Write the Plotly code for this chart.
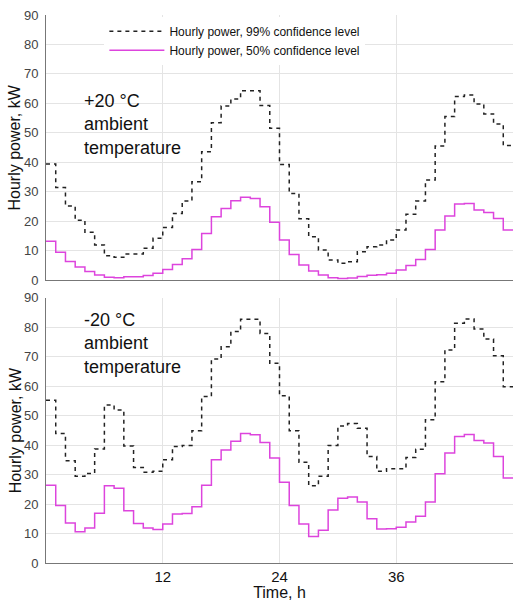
import plotly.graph_objects as go
from plotly.subplots import make_subplots

hours = list(range(49))

top_99 = [39.4, 31.4, 25.1, 20.3, 16.2, 11.9, 8.2, 7.7, 8.8, 8.8, 10.8, 14.2,
          17.8, 22.6, 26.8, 33.4, 43.6, 53.4, 59.1, 61.5, 64.3, 64.3, 59.3, 51.5,
          39.2, 29.4, 20.8, 14.7, 10.2, 6.8, 5.7, 6.2, 9.6, 11.3, 11.9, 13.6,
          17.0, 22.3, 26.8, 34.0, 45.5, 55.5, 62.3, 62.8, 59.8, 56.4, 53.0, 45.7]
top_50 = [13.2, 9.4, 6.3, 4.4, 2.9, 1.7, 0.9, 0.8, 1.1, 1.1, 1.5, 2.3,
          3.6, 5.3, 7.2, 10.4, 15.8, 21.5, 24.3, 26.9, 28.1, 27.7, 24.9, 19.6,
          13.6, 8.7, 5.1, 3.1, 1.7, 0.8, 0.5, 0.7, 1.2, 1.6, 1.8, 2.3,
          3.4, 4.9, 7.0, 10.4, 17.0, 21.7, 25.8, 26.0, 23.8, 22.9, 20.9, 17.0]
bot_99 = [55.2, 43.9, 34.7, 29.4, 30.4, 38.7, 53.6, 51.9, 39.7, 32.4, 30.8, 31.1,
          35.0, 39.5, 39.9, 44.9, 56.5, 69.2, 73.4, 78.5, 82.7, 82.7, 77.9, 67.8,
          56.7, 44.9, 34.2, 26.2, 29.4, 39.9, 46.5, 47.3, 45.7, 36.1, 31.1, 32.0,
          32.0, 35.8, 38.6, 48.6, 61.5, 72.3, 81.3, 82.8, 79.4, 76.0, 70.3, 59.8]
bot_50 = [26.4, 19.5, 13.6, 10.6, 11.9, 16.9, 26.2, 25.4, 17.7, 13.4, 11.9, 11.4,
          13.2, 16.6, 16.8, 19.1, 26.4, 35.0, 38.3, 41.3, 43.9, 43.5, 40.9, 35.6,
          27.4, 19.5, 13.2, 9.0, 11.1, 18.0, 22.0, 22.4, 20.7, 15.0, 11.5, 11.6,
          12.1, 13.9, 15.9, 20.7, 30.3, 37.3, 42.9, 43.6, 41.6, 40.7, 36.1, 28.8]

x_ticks = [12, 24, 36]
y_ticks = list(range(0, 91, 10))
name_99 = "Hourly power, 99% confidence level"
name_50 = "Hourly power, 50% confidence level"
labels = ["+20 °C<br>ambient<br>temperature", "-20 °C<br>ambient<br>temperature"]
y_title = "Hourly power, kW"
x_title = "Time, h"

BLACK = "#222222"
MAGENTA = "#dd44dd"

fig = make_subplots(rows=2, cols=1, shared_xaxes=False, vertical_spacing=0.03)

def ext(v):
    return v + [v[-1]]

fig.add_trace(go.Scatter(x=hours, y=ext(top_99), mode="lines", line_shape="hv",
                         line=dict(color=BLACK, width=1.5, dash="4px,4px"),
                         name=name_99, showlegend=True), row=1, col=1)
fig.add_trace(go.Scatter(x=hours, y=ext(top_50), mode="lines", line_shape="hv",
                         line=dict(color=MAGENTA, width=1.5),
                         name=name_50, showlegend=True), row=1, col=1)
fig.add_trace(go.Scatter(x=hours, y=ext(bot_99), mode="lines", line_shape="hv",
                         line=dict(color=BLACK, width=1.5, dash="4px,4px"),
                         name=name_99, showlegend=False), row=2, col=1)
fig.add_trace(go.Scatter(x=hours, y=ext(bot_50), mode="lines", line_shape="hv",
                         line=dict(color=MAGENTA, width=1.5),
                         name=name_50, showlegend=False), row=2, col=1)

font_family = "Liberation Sans, Arial, sans-serif"

for r in (1, 2):
    fig.update_xaxes(range=[0, 48], tickvals=x_ticks, showgrid=True,
                     gridcolor="#e4e4e4", gridwidth=1, zeroline=False,
                     showline=True, linecolor="#777777", linewidth=1,
                     ticks="", showticklabels=(r == 2),
                     tickfont=dict(size=15, color="#111111", family=font_family),
                     row=r, col=1)
    fig.update_yaxes(range=[0, 90], tickvals=y_ticks, showgrid=True,
                     gridcolor="#e4e4e4", gridwidth=1, zeroline=False,
                     showline=True, linecolor="#777777", linewidth=1,
                     ticks="outside", ticklen=4, tickcolor="rgba(0,0,0,0)",
                     tickfont=dict(size=13, color="#444444", family=font_family),
                     row=r, col=1)

fig.update_xaxes(title=dict(text=x_title, standoff=0,
                            font=dict(size=16, color="#111111", family=font_family)),
                 row=2, col=1)

annos = [
    dict(text=labels[0], xref="x domain", yref="y domain", x=0.078, y=0.72,
         xanchor="left", yanchor="top", align="left", showarrow=False,
         font=dict(size=18, color="#111111", family=font_family)),
    dict(text=labels[1], xref="x2 domain", yref="y2 domain", x=0.078, y=0.96,
         xanchor="left", yanchor="top", align="left", showarrow=False,
         font=dict(size=18, color="#111111", family=font_family)),
]
for ax in ("y", "y2"):
    annos.append(dict(text=y_title, xref="paper", yref=ax + " domain", x=0, y=0.5,
                      xanchor="center", yanchor="middle", xshift=-31, textangle=-90,
                      showarrow=False,
                      font=dict(size=16, color="#111111", family=font_family)))

fig.update_layout(
    width=513, height=601,
    margin=dict(l=46, r=0, t=15, b=38),
    paper_bgcolor="white", plot_bgcolor="white",
    font=dict(family=font_family),
    xaxis=dict(domain=[0, 1]),
    yaxis=dict(domain=[0.5164, 1.0]),
    xaxis2=dict(domain=[0, 1]),
    yaxis2=dict(domain=[0.0, 0.4841]),
    legend=dict(x=0.125, y=0.997, xanchor="left", yanchor="top",
                bgcolor="white", borderwidth=0,
                font=dict(size=12, color="#111111", family=font_family),
                tracegroupgap=0, itemwidth=55),
    annotations=annos,
)

fig.write_html("out.html")
